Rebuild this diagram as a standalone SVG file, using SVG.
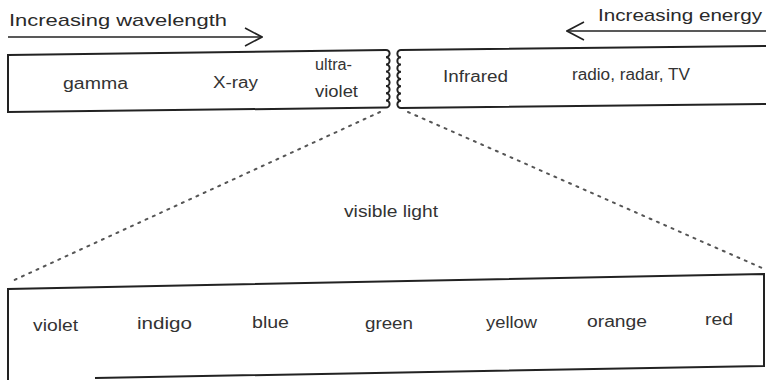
<svg xmlns="http://www.w3.org/2000/svg" width="766" height="380" viewBox="0 0 766 380">
<style>
  .lbl { font-family: "Liberation Sans", Arial, sans-serif; font-size: 16px; fill: #333; }
  .hdr { font-family: "Liberation Sans", Arial, sans-serif; font-size: 17px; fill: #2a2a2a; }
  .box { fill: none; stroke: #222; stroke-width: 2; stroke-linejoin: miter; }
  .dot { fill: none; stroke: #555; stroke-width: 2; stroke-dasharray: 2 6; stroke-linecap: round; }
  .arr { fill: none; stroke: #222; stroke-width: 1.6; }
</style>
<defs>
  <marker id="chev" viewBox="0 0 20 20" refX="19" refY="10" markerWidth="20" markerHeight="20" markerUnits="userSpaceOnUse" orient="auto">
    <path d="M2,1 L19,10 L2,19" fill="none" stroke="#222" stroke-width="1.6"/>
  </marker>
</defs>
<rect width="766" height="380" fill="#fff"/>

<g id="connectors">
  <line class="arr" x1="8" y1="37" x2="262" y2="37" marker-end="url(#chev)"/>
  <line class="arr" x1="766" y1="31" x2="567" y2="31" marker-end="url(#chev)"/>
  <line class="dot" x1="380" y1="112" x2="10" y2="282"/>
  <line class="dot" x1="408" y1="112" x2="762" y2="268"/>
</g>

<g id="wavelength-label">
  <text class="hdr" x="9" y="26" textLength="218" lengthAdjust="spacingAndGlyphs">Increasing wavelength</text>
</g>
<g id="energy-label">
  <text class="hdr" x="598" y="21" textLength="164" lengthAdjust="spacingAndGlyphs">Increasing energy</text>
</g>

<g id="box-short">
  <path class="box" d="M8,55 L386,50 a3.6,3.6 0 0 1 0,7.2 a3.6,3.6 0 0 1 0,7.2 a3.6,3.6 0 0 1 0,7.2 a3.6,3.6 0 0 1 0,7.2 a3.6,3.6 0 0 1 0,7.2 a3.6,3.6 0 0 1 0,7.2 a3.6,3.6 0 0 1 0,7.2 a3.6,3.6 0 0 1 0,7.2 L8,112 Z"/>
  <text class="lbl" x="63" y="89" textLength="65" lengthAdjust="spacingAndGlyphs">gamma</text>
  <text class="lbl" x="213" y="88" textLength="45" lengthAdjust="spacingAndGlyphs">X-ray</text>
  <text class="lbl" x="315" y="70" textLength="37" lengthAdjust="spacingAndGlyphs">ultra-</text>
  <text class="lbl" x="315" y="97" textLength="43" lengthAdjust="spacingAndGlyphs">violet</text>
</g>

<g id="box-long">
  <path class="box" d="M401,108 a3.6,3.6 0 0 1 0,-7.25 a3.6,3.6 0 0 1 0,-7.25 a3.6,3.6 0 0 1 0,-7.25 a3.6,3.6 0 0 1 0,-7.25 a3.6,3.6 0 0 1 0,-7.25 a3.6,3.6 0 0 1 0,-7.25 a3.6,3.6 0 0 1 0,-7.25 a3.6,3.6 0 0 1 0,-7.25 L772,46 L772,104 Z"/>
  <text class="lbl" x="443" y="82" textLength="65" lengthAdjust="spacingAndGlyphs">Infrared</text>
  <text class="lbl" x="572" y="80" textLength="118" lengthAdjust="spacingAndGlyphs">radio, radar, TV</text>
</g>

<g id="visible-label">
  <text class="lbl" x="344" y="217" textLength="94" lengthAdjust="spacingAndGlyphs">visible light</text>
</g>

<g id="box-visible">
  <path class="box" d="M95,378 L764,366 L764,274 L8,289 L8,381"/>
  <text class="lbl" x="33" y="331" textLength="45" lengthAdjust="spacingAndGlyphs">violet</text>
  <text class="lbl" x="137" y="329" textLength="55" lengthAdjust="spacingAndGlyphs">indigo</text>
  <text class="lbl" x="252" y="328" textLength="37" lengthAdjust="spacingAndGlyphs">blue</text>
  <text class="lbl" x="365" y="329" textLength="48" lengthAdjust="spacingAndGlyphs">green</text>
  <text class="lbl" x="486" y="328" textLength="51" lengthAdjust="spacingAndGlyphs">yellow</text>
  <text class="lbl" x="587" y="327" textLength="60" lengthAdjust="spacingAndGlyphs">orange</text>
  <text class="lbl" x="705" y="325" textLength="28" lengthAdjust="spacingAndGlyphs">red</text>
</g>
</svg>
